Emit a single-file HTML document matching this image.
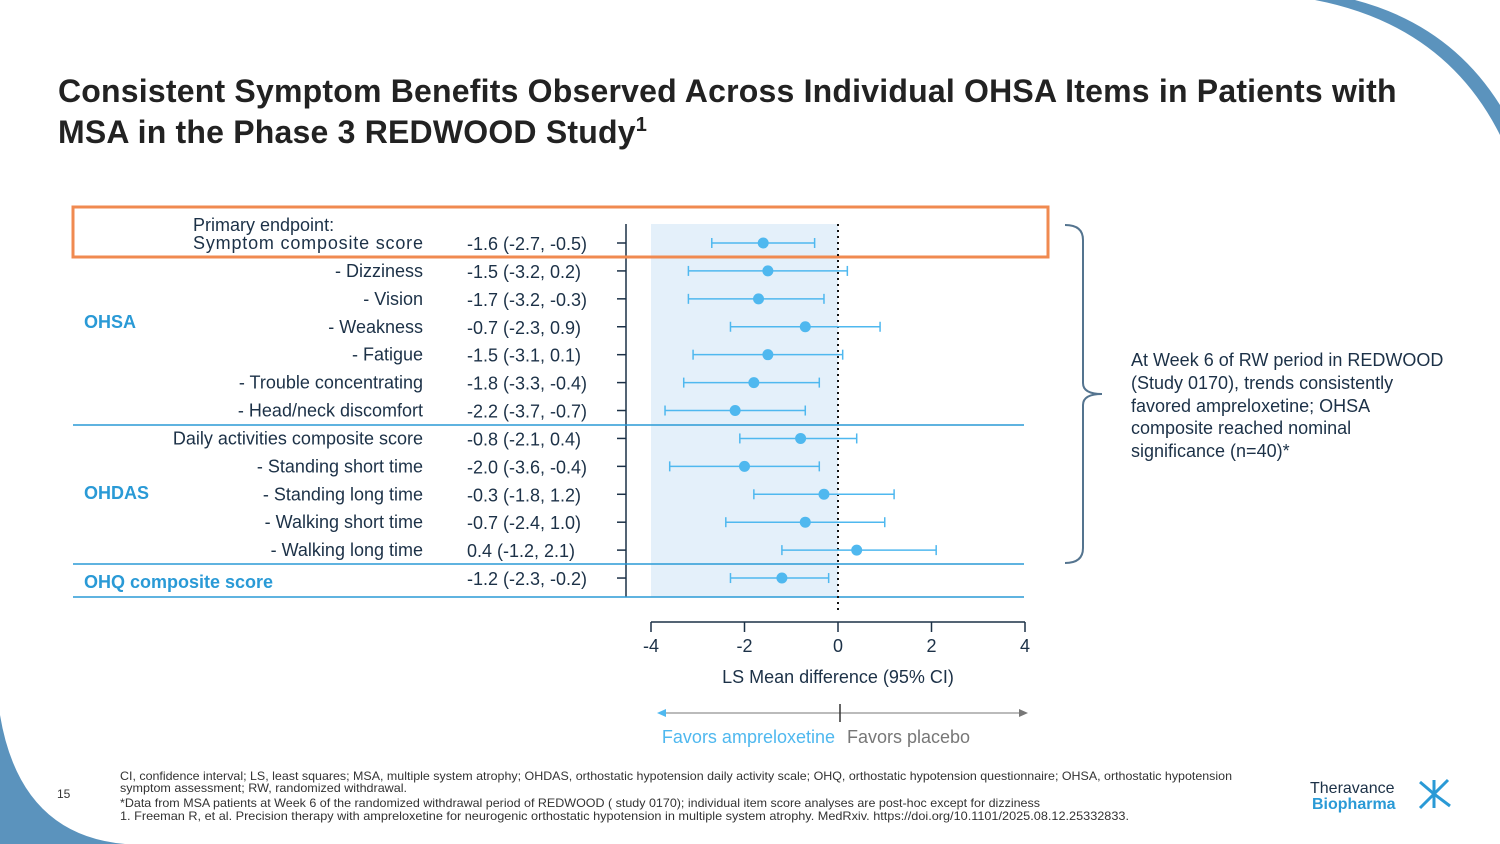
<!DOCTYPE html>
<html><head><meta charset="utf-8"><style>
body{margin:0;width:1500px;height:844px;overflow:hidden;background:#fff;font-family:"Liberation Sans",sans-serif;}
svg{position:absolute;left:0;top:0}
</style></head><body>
<svg width="1500" height="844" viewBox="0 0 1500 844">
<path d="M0 715 Q20 835 125 844 L0 844 Z" fill="#5b93bd"/>
<path d="M1315 0 Q1445 25 1500 135 L1500 105 Q1450 25 1355 0 Z" fill="#5b93bd"/>
<text x="58" y="102" font-size="32" font-weight="bold" fill="#222" letter-spacing="0.2">Consistent Symptom Benefits Observed Across Individual OHSA Items in Patients with</text>
<text x="58" y="143" font-size="32" font-weight="bold" fill="#222" letter-spacing="0.2">MSA in the Phase 3 REDWOOD Study<tspan font-size="20" dy="-12">1</tspan></text>
<rect x="651" y="224" width="187" height="373" fill="#e4f0fa"/>
<line x1="626" y1="224" x2="626" y2="597" stroke="#1c3147" stroke-width="1.5"/>
<line x1="73" y1="425" x2="1024" y2="425" stroke="#2a9ad6" stroke-width="1.5"/>
<line x1="73" y1="564" x2="1024" y2="564" stroke="#2a9ad6" stroke-width="1.5"/>
<line x1="73" y1="597" x2="1024" y2="597" stroke="#2a9ad6" stroke-width="1.5"/>
<rect x="73" y="207" width="975" height="50" fill="none" stroke="#f08a50" stroke-width="3"/>
<g id="rows"></g>
<g id="xaxis"></g>
<text x="193" y="231" font-size="18" fill="#1c3147">Primary endpoint:</text>
<text x="84" y="328" font-size="18" font-weight="bold" fill="#2a9ad6">OHSA</text>
<text x="84" y="499" font-size="18" font-weight="bold" fill="#2a9ad6">OHDAS</text>
<text x="84" y="588" font-size="18" font-weight="bold" fill="#2a9ad6">OHQ composite score</text>
<text x="838" y="683" font-size="18" fill="#1c3147" text-anchor="middle">LS Mean difference (95% CI)</text>
<line x1="660" y1="713" x2="1026" y2="713" stroke="#777" stroke-width="1"/>
<path d="M657 713 l9 -4 v8 z" fill="#4fb8ef"/><path d="M1028 713 l-9 -4 v8 z" fill="#777"/>
<line x1="840" y1="704" x2="840" y2="722" stroke="#333" stroke-width="1.5"/>
<text x="835" y="743" font-size="18" fill="#4fb8ef" text-anchor="end">Favors ampreloxetine</text>
<text x="847" y="743" font-size="18" fill="#777">Favors placebo</text>
<path d="M1065 225 Q1083 225 1083 240 L1083 383 Q1083 394 1102 394 Q1083 394 1083 405 L1083 548 Q1083 563 1065 563" fill="none" stroke="#54748f" stroke-width="2"/>
<g font-size="18" fill="#1c3147">
<text x="1131" y="366">At Week 6 of RW period in REDWOOD</text>
<text x="1131" y="389">(Study 0170), trends consistently</text>
<text x="1131" y="412">favored ampreloxetine; OHSA</text>
<text x="1131" y="434">composite reached nominal</text>
<text x="1131" y="457">significance (n=40)*</text>
</g>
<text x="57" y="798" font-size="12" fill="#333">15</text>
<g font-size="12" fill="#333">
<text x="120" y="780" textLength="1112" lengthAdjust="spacingAndGlyphs">CI, confidence interval; LS, least squares; MSA, multiple system atrophy; OHDAS, orthostatic hypotension daily activity scale; OHQ, orthostatic hypotension questionnaire; OHSA, orthostatic hypotension</text>
<text x="120" y="792" textLength="287" lengthAdjust="spacingAndGlyphs">symptom assessment; RW, randomized withdrawal.</text>
<text x="120" y="807" textLength="920" lengthAdjust="spacingAndGlyphs">*Data from MSA patients at Week 6 of the randomized withdrawal period of REDWOOD ( study 0170); individual item score analyses are post-hoc except for dizziness</text>
<text x="120" y="820" textLength="1009" lengthAdjust="spacingAndGlyphs">1. Freeman R, et al. Precision therapy with ampreloxetine for neurogenic orthostatic hypotension in multiple system atrophy. MedRxiv. https://doi.org/10.1101/2025.08.12.25332833.</text>
</g>
<g>
<text x="1310" y="793" font-size="16" fill="#1c3147">Theravance</text>
<text x="1312" y="809" font-size="16" font-weight="bold" fill="#2a9ad6">Biopharma</text>
<path d="M1420 782 l14 12 l-14 14 M1448 780 l-14 14 l16 12 M1434 780 v28" stroke="#2a9ad6" stroke-width="3" fill="none"/>
</g>
</svg>
<script>
const labels=["Symptom composite score","- Dizziness","- Vision","- Weakness","- Fatigue","- Trouble concentrating","- Head/neck discomfort","Daily activities composite score","- Standing short time","- Standing long time","- Walking short time","- Walking long time",""];
const means=[-1.6,-1.5,-1.7,-0.7,-1.5,-1.8,-2.2,-0.8,-2.0,-0.3,-0.7,0.4,-1.2];
const lows=[-2.7,-3.2,-3.2,-2.3,-3.1,-3.3,-3.7,-2.1,-3.6,-1.8,-2.4,-1.2,-2.3];
const highs=[-0.5,0.2,-0.3,0.9,0.1,-0.4,-0.7,0.4,-0.4,1.2,1.0,2.1,-0.2];
const ticks=[-4,-2,0,2,4];
const NS="http://www.w3.org/2000/svg";
const x=v=>838+v*46.75;
const y=i=>243+i*27.92;
const f=v=>v.toFixed(1);
function mk(t,a,p){const e=document.createElementNS(NS,t);for(const k in a)e.setAttribute(k,a[k]);p.appendChild(e);return e;}
const rows=document.getElementById('rows');
const zl=mk('line',{x1:838,y1:224,x2:838,y2:614,stroke:'#111','stroke-width':2,'stroke-dasharray':'2 4'},rows);


means.forEach((m,i)=>{
 const g=mk('g',{},rows);
 
 
 const yy=y(i);
 if(labels[i]){const t=mk('text',{x:423,y:yy+6,'font-size':18,fill:'#1c3147','text-anchor':'end'},g);t.textContent=labels[i];if(i===0){t.setAttribute('textLength','230');}}
 const v=mk('text',{x:467,y:yy+7,'font-size':18,fill:'#1c3147'},g);v.textContent=f(m)+' ('+f(lows[i])+', '+f(highs[i])+')';
 mk('line',{x1:617,y1:yy,x2:626,y2:yy,stroke:'#1c3147','stroke-width':1.5},g);
 const c='#4fb8ef';
 mk('line',{x1:x(lows[i]),y1:yy,x2:x(highs[i]),y2:yy,stroke:c,'stroke-width':1.5},g);
 mk('line',{x1:x(lows[i]),y1:yy-5,x2:x(lows[i]),y2:yy+5,stroke:c,'stroke-width':1.5},g);
 mk('line',{x1:x(highs[i]),y1:yy-5,x2:x(highs[i]),y2:yy+5,stroke:c,'stroke-width':1.5},g);
 mk('circle',{cx:x(m),cy:yy,r:5.5,fill:c},g);
});
const xa=document.getElementById('xaxis');


mk('line',{x1:x(-4),y1:622,x2:x(4),y2:622,stroke:'#1c3147','stroke-width':1.5},xa);
ticks.forEach(t=>{
 mk('line',{x1:x(t),y1:622,x2:x(t),y2:632,stroke:'#1c3147','stroke-width':1.5},xa);
 const tx=mk('text',{x:x(t),y:652,'font-size':18,fill:'#1c3147','text-anchor':'middle'},xa);
 
 
 tx.textContent=t;
});
</script>
</body></html>
